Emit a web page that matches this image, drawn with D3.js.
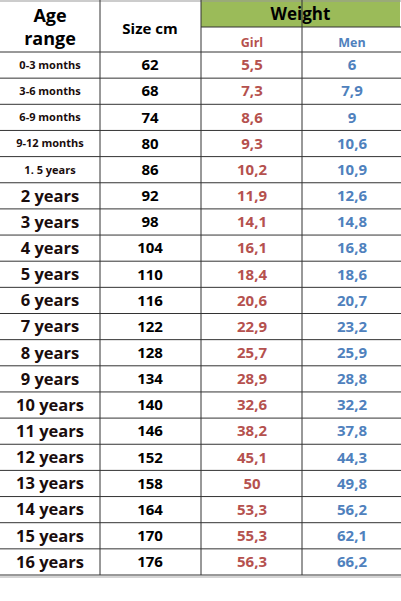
<!DOCTYPE html>
<html><head><meta charset="utf-8">
<script src="https://cdn.jsdelivr.net/npm/d3@7"></script>
<style>body{margin:0;background:#fff}</style></head>
<body><div id="chart"></div>
<script>
// table values
const ages = ["0-3 months","3-6 months","6-9 months","9-12 months","1. 5 years","2 years","3 years","4 years","5 years","6 years","7 years","8 years","9 years","10 years","11 years","12 years","13 years","14 years","15 years","16 years"];
const sizes = [62,68,74,80,86,92,98,104,110,116,122,128,134,140,146,152,158,164,170,176];
const girl = ["5,5","7,3","8,6","9,3","10,2","11,9","14,1","16,1","18,4","20,6","22,9","25,7","28,9","32,6","38,2","45,1","50","53,3","55,3","56,3"];
const men = ["6","7,9","9","10,6","10,9","12,6","14,8","16,8","18,6","20,7","23,2","25,9","28,8","32,2","37,8","44,3","49,8","56,2","62,1","66,2"];

const W = 401, H = 601;
const svg = d3.select("#chart").append("svg").attr("width",W).attr("height",H)
  .style("font-family","'Open Sans', 'Noto Sans', sans-serif").style("font-weight","bold");

const top0 = 52, bottom0 = 575;
const y = d3.scaleBand().domain(d3.range(ages.length)).range([top0,bottom0]);
const colX = [1,100,201,302,400];

// header
svg.append("rect").attr("x",colX[2]).attr("y",0).attr("width",colX[4]-colX[2]).attr("height",27).attr("fill","#9bbb59");
svg.append("text").attr("x",(colX[2]+colX[4])/2).attr("y",20).attr("text-anchor","middle").attr("font-size",17).text("Weight");
svg.append("text").attr("x",50).attr("y",22).attr("text-anchor","middle").attr("font-size",18).text("Age");
svg.append("text").attr("x",50).attr("y",45).attr("text-anchor","middle").attr("font-size",18).text("range");
svg.append("text").attr("x",150).attr("y",34).attr("text-anchor","middle").attr("font-size",15).text("Size cm");
svg.append("text").attr("x",252).attr("y",47).attr("text-anchor","middle").attr("font-size",12.5).attr("fill","#b5514e").text("Girl");
svg.append("text").attr("x",352).attr("y",47).attr("text-anchor","middle").attr("font-size",12.5).attr("fill","#4f81bd").text("Men");

// grid lines
const line = (x1,y1,x2,y2,w,c) => svg.append("line").attr("x1",x1).attr("y1",y1).attr("x2",x2).attr("y2",y2).attr("stroke",c||"#333").attr("stroke-width",w||1);
line(0,1,W,1,1,"#999"); line(colX[2],27,W,27);
line(0,top0,W,top0);
ages.forEach((d,i)=>line(0,y(i)+y.bandwidth(),W,y(i)+y.bandwidth()));
line(0,bottom0+2,W,bottom0+2,1,"#aaa");
colX.slice(1,4).forEach(x=>line(x,0,x,bottom0));

const rows = svg.selectAll("g.row").data(ages).join("g").attr("class","row")
  .attr("transform",(d,i)=>`translate(0,${y(i)+y.bandwidth()/2})`);
rows.append("text").attr("x",50).attr("dy","0.35em").attr("text-anchor","middle")
  .attr("font-size",d=>d.includes("months")||d.startsWith("1.")?11:16.5).attr("fill","#1a0d0d").text(d=>d);
rows.append("text").attr("x",150).attr("dy","0.35em").attr("text-anchor","middle").attr("font-size",15).text((d,i)=>sizes[i]);
rows.append("text").attr("x",252).attr("dy","0.35em").attr("text-anchor","middle").attr("font-size",15).attr("fill","#b5514e").text((d,i)=>girl[i]);
rows.append("text").attr("x",352).attr("dy","0.35em").attr("text-anchor","middle").attr("font-size",15).attr("fill","#4f81bd").text((d,i)=>men[i]);
</script></body></html>
